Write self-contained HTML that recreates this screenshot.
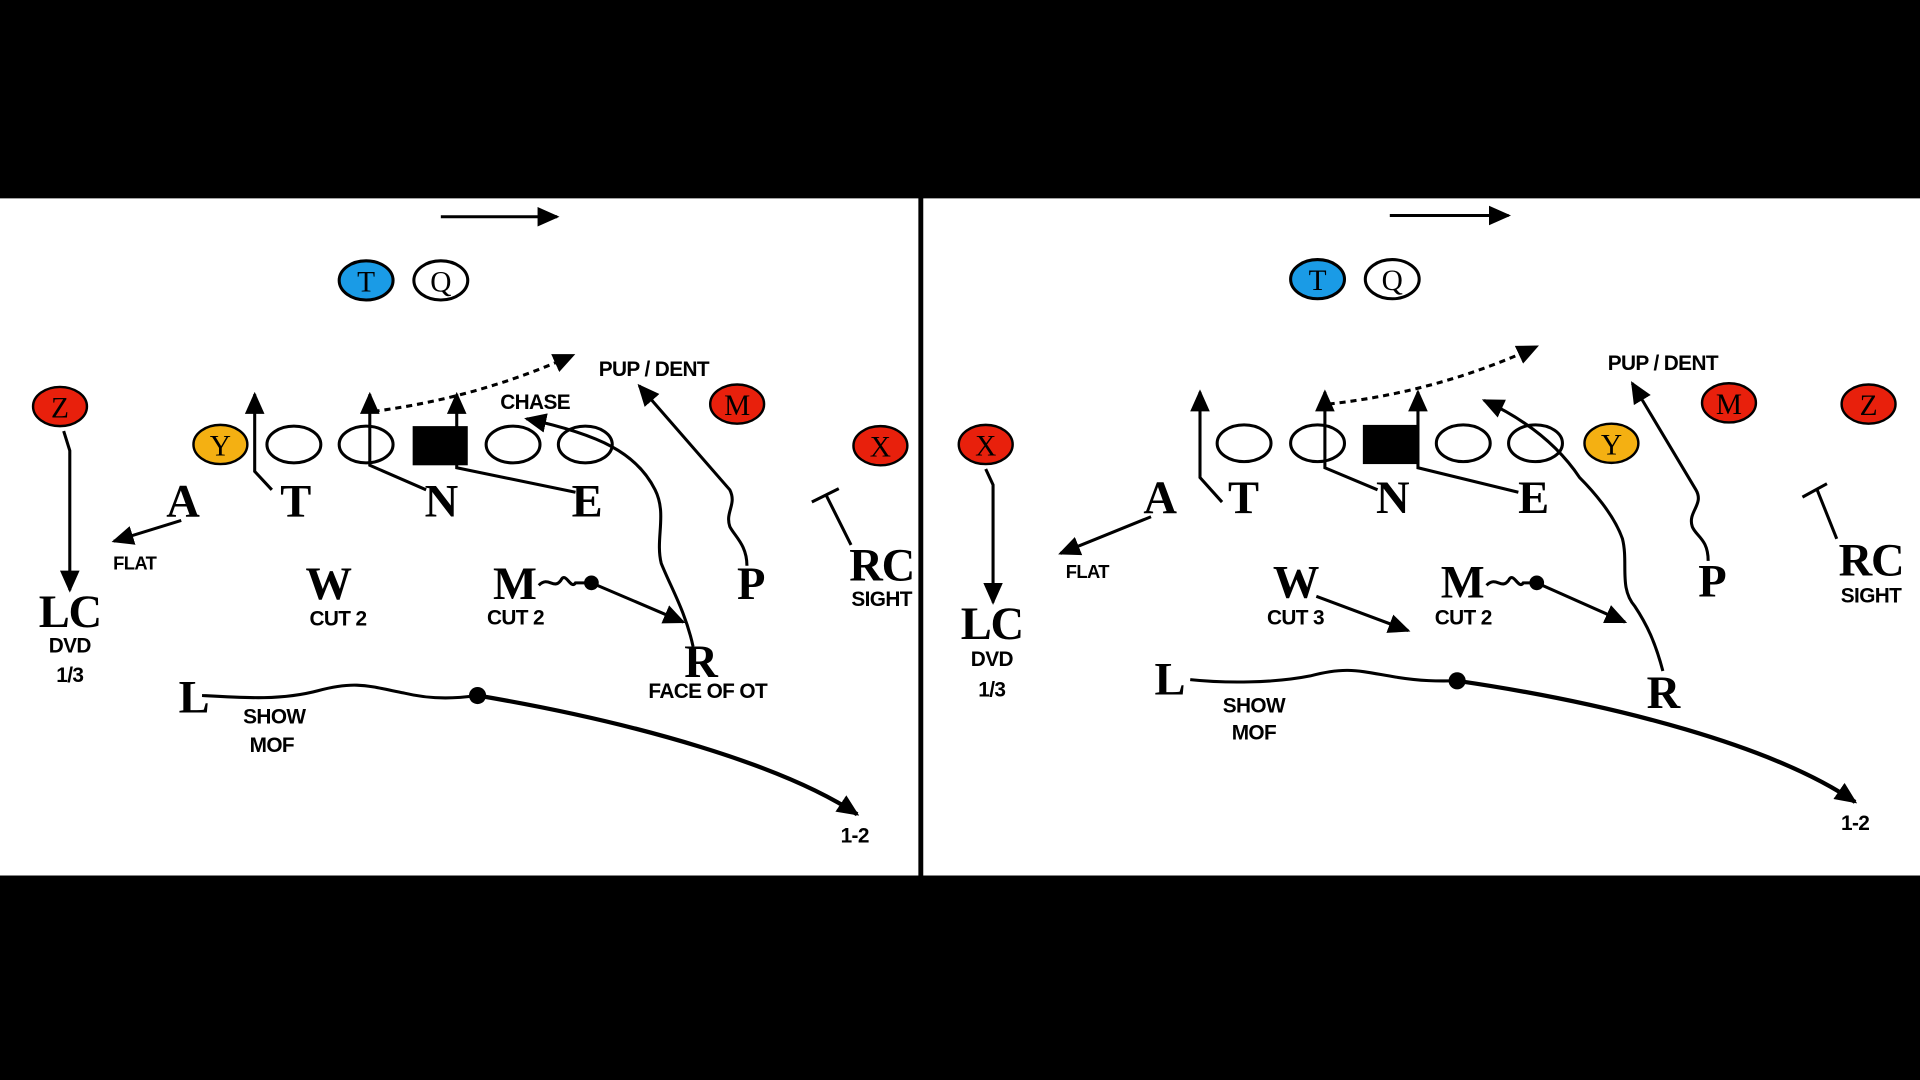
<!DOCTYPE html>
<html><head><meta charset="utf-8"><style>
html,body{margin:0;padding:0;background:#000;width:1920px;height:1080px;overflow:hidden}
svg{display:block}
.s{font-family:"Liberation Serif",serif;font-size:38px;font-weight:bold;text-anchor:middle;fill:#000;letter-spacing:-1px}
.l{font-family:"Liberation Serif",serif;font-size:24px;text-anchor:middle}
.b{font-family:"Liberation Sans",sans-serif;font-weight:bold;font-size:17px;text-anchor:middle;fill:#000;letter-spacing:-0.5px}
.sm{font-size:15px}
.ln{fill:none;stroke:#000;stroke-width:2.5}
</style></head><body>
<svg width="1920" height="1080" viewBox="0 0 1568 882" preserveAspectRatio="none">
<defs>
<marker id="ab" markerWidth="18" markerHeight="18" refX="16" refY="9" orient="auto" markerUnits="userSpaceOnUse" viewBox="0 0 18 18"><path d="M0,1 L18,9 L0,17 z" fill="#000"/></marker>
</defs>
<rect x="0" y="0" width="1568" height="882" fill="#000"/>
<rect x="0" y="162" width="750" height="553" fill="#fff"/>
<rect x="754" y="162" width="814" height="553" fill="#fff"/>

<!-- LEFT PANEL -->
<g>
<line x1="360" y1="177" x2="455" y2="177" class="ln" marker-end="url(#ab)"/>
<ellipse cx="299" cy="229" rx="22" ry="16" fill="#1a9be6" stroke="#000" stroke-width="2.5"/><text x="299" y="238" class="l">T</text>
<ellipse cx="360" cy="229" rx="22" ry="16" fill="#fff" stroke="#000" stroke-width="2.5"/><text x="360" y="238" class="l">Q</text>
<ellipse cx="49" cy="332" rx="22" ry="16" fill="#e8200c" stroke="#000" stroke-width="2"/><text x="49" y="341" class="l">Z</text>
<ellipse cx="180" cy="363" rx="22" ry="16" fill="#f4b012" stroke="#000" stroke-width="2"/><text x="180" y="372" class="l">Y</text>
<ellipse cx="240" cy="363" rx="22" ry="15" fill="#fff" stroke="#000" stroke-width="2.5"/>
<ellipse cx="299" cy="363" rx="22" ry="15" fill="#fff" stroke="#000" stroke-width="2.5"/>
<rect x="337" y="348" width="45" height="32" fill="#000"/>
<ellipse cx="419" cy="363" rx="22" ry="15" fill="#fff" stroke="#000" stroke-width="2.5"/>
<ellipse cx="478" cy="363" rx="22" ry="15" fill="#fff" stroke="#000" stroke-width="2.5"/>
<ellipse cx="602" cy="330" rx="22" ry="16" fill="#e8200c" stroke="#000" stroke-width="2"/><text x="602" y="339" class="l">M</text>
<ellipse cx="719" cy="364" rx="22" ry="16" fill="#e8200c" stroke="#000" stroke-width="2"/><text x="719" y="373" class="l">X</text>

<text x="149" y="422" class="s">A</text><text x="241" y="422" class="s">T</text><text x="360" y="422" class="s">N</text><text x="479" y="422" class="s">E</text>
<polyline points="222,400 208,385 208,322" class="ln" marker-end="url(#ab)"/>
<polyline points="348,400 302,380 302,322" class="ln" marker-end="url(#ab)"/>
<polyline points="470,402 373,382 373,322" class="ln" marker-end="url(#ab)"/>
<path d="M305,336 Q390,325 468,290" class="ln" stroke-dasharray="5,4" marker-end="url(#ab)"/>
<text x="534" y="307" class="b">PUP / DENT</text>
<text x="437" y="334" class="b">CHASE</text>
<path d="M566,528 C560,500 548,480 540,460 C535,440 545,420 535,400 C520,370 490,355 430,342" class="ln" marker-end="url(#ab)"/>
<path d="M610,462 C610,445 600,438 596,430 C592,418 602,412 596,400 L522,315" class="ln" marker-end="url(#ab)"/>
<polyline points="695,445 675,405" class="ln"/><line x1="663" y1="410" x2="685" y2="399" class="ln"/>
<line x1="148" y1="425" x2="93" y2="442" class="ln" marker-end="url(#ab)"/>
<polyline points="52,352 57,368 57,482" class="ln" marker-end="url(#ab)"/>
<text x="57" y="512" class="s">LC</text><text x="57" y="533" class="b">DVD</text><text x="57" y="557" class="b">1/3</text>
<text x="110" y="465" class="b sm">FLAT</text>
<text x="268" y="489" class="s">W</text><text x="276" y="511" class="b">CUT 2</text>
<text x="420" y="489" class="s">M</text><text x="421" y="510" class="b">CUT 2</text>
<path d="M440,478 C448,470 452,482 458,474 C462,466 466,482 470,476 L483,476" class="ln"/>
<circle cx="483" cy="476" r="6" fill="#000"/>
<line x1="483" y1="476" x2="558" y2="508" class="ln" marker-end="url(#ab)"/>
<text x="613" y="489" class="s">P</text>
<text x="720" y="474" class="s">RC</text><text x="720" y="495" class="b">SIGHT</text>
<text x="572" y="553" class="s">R</text><text x="578" y="570" class="b">FACE OF OT</text>
<text x="158" y="582" class="s">L</text>
<text x="224" y="591" class="b">SHOW</text><text x="222" y="614" class="b">MOF</text>
<path d="M165,568 C200,570 230,572 260,564 C290,556 300,560 330,566 C355,572 375,570 390,568" class="ln"/>
<circle cx="390" cy="568" r="7" fill="#000"/>
<path d="M390,568 C520,590 640,625 700,665" fill="none" stroke="#000" stroke-width="3.5" marker-end="url(#ab)"/>
<text x="698" y="688" class="b">1-2</text>
</g>

<!-- RIGHT PANEL -->
<g>
<line x1="1135" y1="176" x2="1232" y2="176" class="ln" marker-end="url(#ab)"/>
<ellipse cx="1076" cy="228" rx="22" ry="16" fill="#1a9be6" stroke="#000" stroke-width="2.5"/><text x="1076" y="237" class="l">T</text>
<ellipse cx="1137" cy="228" rx="22" ry="16" fill="#fff" stroke="#000" stroke-width="2.5"/><text x="1137" y="237" class="l">Q</text>
<ellipse cx="805" cy="363" rx="22" ry="16" fill="#e8200c" stroke="#000" stroke-width="2"/><text x="805" y="372" class="l">X</text>
<ellipse cx="1016" cy="362" rx="22" ry="15" fill="#fff" stroke="#000" stroke-width="2.5"/>
<ellipse cx="1076" cy="362" rx="22" ry="15" fill="#fff" stroke="#000" stroke-width="2.5"/>
<rect x="1113" y="347" width="45" height="32" fill="#000"/>
<ellipse cx="1195" cy="362" rx="22" ry="15" fill="#fff" stroke="#000" stroke-width="2.5"/>
<ellipse cx="1254" cy="362" rx="22" ry="15" fill="#fff" stroke="#000" stroke-width="2.5"/>
<ellipse cx="1316" cy="362" rx="22" ry="16" fill="#f4b012" stroke="#000" stroke-width="2"/><text x="1316" y="371" class="l">Y</text>
<ellipse cx="1412" cy="329" rx="22" ry="16" fill="#e8200c" stroke="#000" stroke-width="2"/><text x="1412" y="338" class="l">M</text>
<ellipse cx="1526" cy="330" rx="22" ry="16" fill="#e8200c" stroke="#000" stroke-width="2"/><text x="1526" y="339" class="l">Z</text>

<text x="947" y="419" class="s">A</text><text x="1015" y="419" class="s">T</text><text x="1137" y="419" class="s">N</text><text x="1252" y="419" class="s">E</text>
<polyline points="998,410 980,390 980,320" class="ln" marker-end="url(#ab)"/>
<polyline points="1125,400 1082,382 1082,320" class="ln" marker-end="url(#ab)"/>
<polyline points="1240,402 1158,382 1158,320" class="ln" marker-end="url(#ab)"/>
<path d="M1085,330 Q1175,320 1255,283" class="ln" stroke-dasharray="5,4" marker-end="url(#ab)"/>
<text x="1358" y="302" class="b">PUP / DENT</text>
<path d="M1358,548 C1352,525 1345,510 1335,495 C1322,480 1330,460 1325,440 C1318,420 1300,400 1290,390 C1270,360 1240,340 1212,327" class="ln" marker-end="url(#ab)"/>
<path d="M1395,458 C1395,440 1385,438 1382,430 C1378,418 1392,412 1385,400 L1333,313" class="ln" marker-end="url(#ab)"/>
<polyline points="1500,440 1484,400" class="ln"/><line x1="1472" y1="406" x2="1492" y2="395" class="ln"/>
<line x1="940" y1="422" x2="866" y2="452" class="ln" marker-end="url(#ab)"/>
<text x="888" y="472" class="b sm">FLAT</text>
<polyline points="805,383 811,396 811,492" class="ln" marker-end="url(#ab)"/>
<text x="810" y="522" class="s">LC</text><text x="810" y="544" class="b">DVD</text><text x="810" y="569" class="b">1/3</text>
<text x="1058" y="488" class="s">W</text><text x="1058" y="510" class="b">CUT 3</text>
<line x1="1075" y1="487" x2="1150" y2="515" class="ln" marker-end="url(#ab)"/>
<text x="1194" y="488" class="s">M</text><text x="1195" y="510" class="b">CUT 2</text>
<path d="M1214,478 C1222,470 1226,482 1232,474 C1236,466 1240,482 1244,476 L1255,476" class="ln"/>
<circle cx="1255" cy="476" r="6" fill="#000"/>
<line x1="1255" y1="476" x2="1327" y2="508" class="ln" marker-end="url(#ab)"/>
<text x="1398" y="487" class="s">P</text>
<text x="1528" y="470" class="s">RC</text><text x="1528" y="492" class="b">SIGHT</text>
<text x="1358" y="578" class="s">R</text>
<text x="955" y="567" class="s">L</text>
<text x="1024" y="582" class="b">SHOW</text><text x="1024" y="604" class="b">MOF</text>
<path d="M972,555 C1000,558 1040,558 1070,552 C1100,544 1110,548 1140,553 C1165,557 1180,556 1190,556" class="ln"/>
<circle cx="1190" cy="556" r="7" fill="#000"/>
<path d="M1190,556 C1320,575 1450,610 1515,655" fill="none" stroke="#000" stroke-width="3.5" marker-end="url(#ab)"/>
<text x="1515" y="678" class="b">1-2</text>
</g>
</svg>
</body></html>
